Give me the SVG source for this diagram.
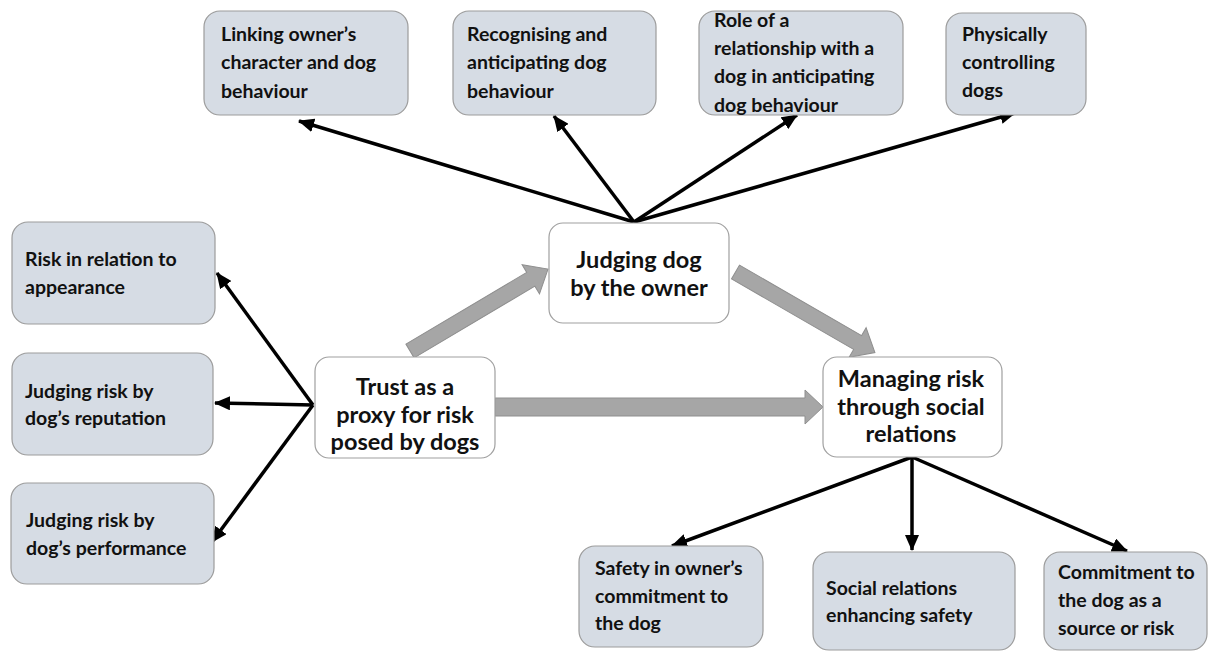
<svg xmlns="http://www.w3.org/2000/svg" width="1210" height="651" viewBox="0 0 1210 651">
  <style>
    .sub { fill: #d6dce4; stroke: #9c9c9c; stroke-width: 1.2; }
    .core { fill: #ffffff; stroke: #a0a0a0; stroke-width: 1.2; }
    .lbl { font-family: Lato, "Open Sans", "Liberation Sans", sans-serif; font-weight: bold; font-size: 19.5px; fill: #111111; }
    .big { font-family: Lato, "Open Sans", "Liberation Sans", sans-serif; font-weight: bold; font-size: 23.5px; fill: #111111; text-anchor: middle; }
    .link { stroke: #000000; stroke-width: 3.5; fill: none; marker-end: url(#head); }
    .block { fill: #a6a6a6; stroke: #8f8f8f; stroke-width: 1; }
  </style>
  <defs>
    <marker id="head" viewBox="0 0 16 14" refX="15" refY="7" markerWidth="16" markerHeight="14" markerUnits="userSpaceOnUse" orient="auto">
      <path d="M0,0 L16,7 L0,14 Z" fill="#000000"/>
    </marker>
  </defs>

  <rect width="1210" height="651" fill="#ffffff"/>

  <!-- connectors -->
  <g id="connectors">
    <!-- broad grey flow arrows between the three core themes -->
    <polygon class="block" transform="translate(410,351) rotate(-30.7)" points="0,-8 140.5,-8 140.5,-17 160.5,0 140.5,17 140.5,8 0,8"/>
    <polygon class="block" transform="translate(735.5,272) rotate(30)" points="0,-8 141,-8 141,-17 161,0 141,17 141,8 0,8"/>
    <polygon class="block" transform="translate(495,407)" points="0,-9 310,-9 310,-17 328,0 310,17 310,9 0,9"/>

    <!-- from "Judging dog by the owner" -->
    <line class="link" x1="634" y1="222" x2="299" y2="121"/>
    <line class="link" x1="634" y1="222" x2="554" y2="116"/>
    <line class="link" x1="634" y1="222" x2="797" y2="115"/>
    <line class="link" x1="634" y1="222" x2="1015" y2="113"/>

    <!-- from "Trust as a proxy" -->
    <line class="link" x1="313" y1="405" x2="217" y2="273"/>
    <line class="link" x1="313" y1="405" x2="215" y2="403"/>
    <line class="link" x1="313" y1="405" x2="212" y2="542"/>

    <!-- from "Managing risk" -->
    <line class="link" x1="912" y1="457" x2="672" y2="546"/>
    <line class="link" x1="912" y1="457" x2="912" y2="550"/>
    <line class="link" x1="912" y1="457" x2="1127" y2="551"/>
  </g>

  <!-- core themes -->
  <g id="judging-dog">
    <rect class="core" x="549" y="223" width="180" height="100" rx="14"/>
    <text class="big" x="639" y="268">Judging dog</text>
    <text class="big" x="639" y="296">by the owner</text>
  </g>
  <g id="trust-proxy">
    <rect class="core" x="315" y="357" width="180" height="101" rx="14"/>
    <text class="big" x="405" y="395">Trust as a</text>
    <text class="big" x="405" y="423">proxy for risk</text>
    <text class="big" x="405" y="450">posed by dogs</text>
  </g>
  <g id="managing-risk">
    <rect class="core" x="823" y="357" width="179" height="100" rx="14"/>
    <text class="big" x="911" y="387">Managing risk</text>
    <text class="big" x="911" y="415">through social</text>
    <text class="big" x="911" y="442">relations</text>
  </g>

  <!-- sub-themes, top row -->
  <g id="linking-character">
    <rect class="sub" x="204" y="11" width="204" height="104" rx="16"/>
    <text class="lbl" x="221" y="41">Linking owner’s</text>
    <text class="lbl" x="221" y="69">character and dog</text>
    <text class="lbl" x="221" y="98">behaviour</text>
  </g>
  <g id="recognising">
    <rect class="sub" x="453" y="11" width="203" height="104" rx="16"/>
    <text class="lbl" x="467" y="41">Recognising and</text>
    <text class="lbl" x="467" y="69">anticipating dog</text>
    <text class="lbl" x="467" y="98">behaviour</text>
  </g>
  <g id="role-relationship">
    <rect class="sub" x="699" y="11" width="204" height="104" rx="16"/>
    <text class="lbl" x="714" y="27">Role of a</text>
    <text class="lbl" x="714" y="55">relationship with a</text>
    <text class="lbl" x="714" y="83">dog in anticipating</text>
    <text class="lbl" x="714" y="112">dog behaviour</text>
  </g>
  <g id="physically-controlling">
    <rect class="sub" x="946" y="13" width="140" height="102" rx="16"/>
    <text class="lbl" x="962" y="41">Physically</text>
    <text class="lbl" x="962" y="69">controlling</text>
    <text class="lbl" x="962" y="97">dogs</text>
  </g>

  <!-- sub-themes, left column -->
  <g id="appearance">
    <rect class="sub" x="12" y="222" width="203" height="102" rx="16"/>
    <text class="lbl" x="25" y="266">Risk in relation to</text>
    <text class="lbl" x="25" y="294">appearance</text>
  </g>
  <g id="reputation">
    <rect class="sub" x="12" y="353" width="201" height="102" rx="16"/>
    <text class="lbl" x="25" y="398">Judging risk by</text>
    <text class="lbl" x="25" y="425">dog’s reputation</text>
  </g>
  <g id="performance">
    <rect class="sub" x="11" y="483" width="203" height="101" rx="16"/>
    <text class="lbl" x="26" y="527">Judging risk by</text>
    <text class="lbl" x="26" y="555">dog’s performance</text>
  </g>

  <!-- sub-themes, bottom row -->
  <g id="owner-commitment">
    <rect class="sub" x="579" y="546" width="184" height="101" rx="16"/>
    <text class="lbl" x="595" y="575">Safety in owner’s</text>
    <text class="lbl" x="595" y="603">commitment to</text>
    <text class="lbl" x="595" y="630">the dog</text>
  </g>
  <g id="social-relations">
    <rect class="sub" x="813" y="552" width="202" height="98" rx="16"/>
    <text class="lbl" x="826" y="595">Social relations</text>
    <text class="lbl" x="826" y="622">enhancing safety</text>
  </g>
  <g id="commitment-source">
    <rect class="sub" x="1044" y="552" width="163" height="98" rx="16"/>
    <text class="lbl" x="1058" y="579">Commitment to</text>
    <text class="lbl" x="1058" y="607">the dog as a</text>
    <text class="lbl" x="1058" y="635">source or risk</text>
  </g>
</svg>
